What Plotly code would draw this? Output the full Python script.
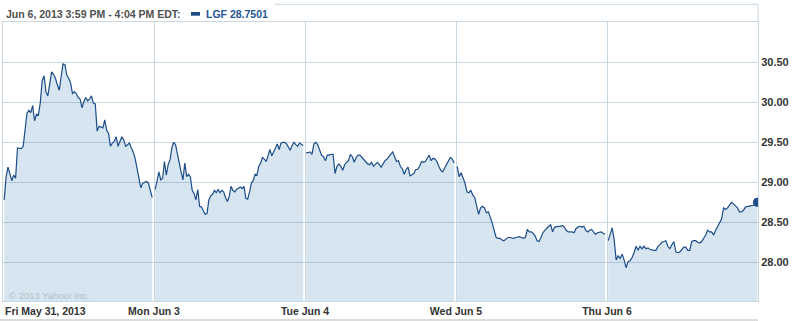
import numpy as np
import plotly.graph_objects as go

# ---- data ----
day_labels = ["Fri May 31, 2013", "Mon Jun 3", "Tue Jun 4", "Wed Jun 5", "Thu Jun 6"]
y_ticks = [28.0, 28.5, 29.0, 29.5, 30.0, 30.5]

fri = [28.78, 29.07, 29.19, 29.11, 29.02, 29.09, 29.05, 29.43, 29.42, 29.42, 29.45, 29.70, 29.86, 29.90,
       29.87, 29.96, 29.77, 29.85, 29.84, 29.99, 30.27, 30.33, 30.13, 30.08, 30.26, 30.38, 30.35, 30.30,
       30.22, 30.15, 30.32, 30.48, 30.47, 30.34, 30.30, 30.24, 30.11, 30.13, 30.11, 30.06, 30.04, 29.93,
       30.01, 30.06, 30.02, 30.04, 30.08, 29.99, 29.98, 29.64, 29.70, 29.69, 29.68, 29.78, 29.65, 29.61,
       29.45, 29.49, 29.51, 29.57, 29.45, 29.51, 29.57, 29.53, 29.45, 29.47, 29.49, 29.43, 29.38, 29.30,
       29.17, 29.03, 28.93, 28.99, 29.00, 29.01, 28.99, 28.90, 28.81]
mon = [28.91, 29.03, 29.13, 29.03, 29.05, 29.26, 29.09, 29.22, 29.28, 29.43, 29.50, 29.47, 29.34, 29.24,
       29.13, 29.03, 29.24, 29.07, 29.10, 29.07, 28.90, 28.86, 28.78, 28.91, 28.70, 28.69, 28.65, 28.60,
       28.61, 28.78, 28.83, 28.85, 28.90, 28.87, 28.91, 28.87, 28.90, 28.88, 28.81, 28.76, 28.82, 28.95,
       28.90, 28.88, 28.91, 28.92, 28.94, 28.92, 28.95, 28.80, 28.79, 28.88, 28.99, 29.02, 29.10, 29.09,
       29.20, 29.24, 29.31, 29.29, 29.26, 29.33, 29.41, 29.33, 29.38, 29.41, 29.48, 29.41, 29.49, 29.50,
       29.50, 29.48, 29.44, 29.40, 29.46, 29.50, 29.47, 29.45, 29.49, 29.48, 29.46]
tue = [29.37, 29.37, 29.38, 29.35, 29.48, 29.50, 29.47, 29.40, 29.34, 29.32, 29.27, 29.34, 29.34, 29.35,
       29.35, 29.11, 29.20, 29.23, 29.20, 29.15, 29.22, 29.25, 29.27, 29.35, 29.32, 29.25, 29.31, 29.34,
       29.34, 29.31, 29.28, 29.25, 29.23, 29.22, 29.25, 29.20, 29.23, 29.25, 29.22, 29.19, 29.23, 29.27,
       29.29, 29.32, 29.35, 29.38, 29.32, 29.26, 29.27, 29.20, 29.17, 29.10, 29.16, 29.19, 29.08, 29.09,
       29.11, 29.16, 29.16, 29.20, 29.26, 29.25, 29.26, 29.30, 29.34, 29.27, 29.30, 29.29, 29.26, 29.20,
       29.15, 29.13, 29.18, 29.21, 29.27, 29.31, 29.29, 29.24]
wed = [29.20, 29.07, 29.12, 29.06, 28.99, 28.88, 28.87, 28.90, 28.84, 28.81, 28.68, 28.60, 28.68, 28.70,
       28.68, 28.62, 28.63, 28.57, 28.49, 28.40, 28.31, 28.30, 28.30, 28.28, 28.27, 28.29, 28.31, 28.31,
       28.30, 28.30, 28.31, 28.32, 28.32, 28.31, 28.30, 28.31, 28.41, 28.38, 28.38, 28.36, 28.33, 28.27,
       28.26, 28.31, 28.37, 28.40, 28.43, 28.45, 28.47, 28.38, 28.44, 28.45, 28.45, 28.45, 28.46, 28.44,
       28.40, 28.38, 28.38, 28.38, 28.37, 28.42, 28.44, 28.45, 28.44, 28.45, 28.40, 28.38, 28.40, 28.41,
       28.38, 28.35, 28.37, 28.38, 28.38, 28.36, 28.35]
thu = [28.27, 28.34, 28.43, 28.28, 28.03, 28.08, 28.05, 28.10, 28.03, 27.93, 28.01, 28.02, 28.06, 28.12,
       28.20, 28.15, 28.20, 28.17, 28.20, 28.17, 28.18, 28.16, 28.15, 28.15, 28.15, 28.20, 28.22, 28.25,
       28.26, 28.27, 28.20, 28.17, 28.22, 28.26, 28.13, 28.12, 28.13, 28.16, 28.19, 28.19, 28.15, 28.15,
       28.26, 28.27, 28.27, 28.25, 28.24, 28.26, 28.30, 28.34, 28.40, 28.38, 28.38, 28.34, 28.40, 28.45,
       28.50, 28.54, 28.68, 28.66, 28.68, 28.72, 28.75, 28.73, 28.70, 28.68, 28.63, 28.63, 28.65, 28.69,
       28.70, 28.70, 28.71, 28.71, 28.73, 28.7501]
days = [fri, mon, tue, wed, thu]
# session end as a fraction of a day's slot (Thursday runs to 4:04 PM, the last quote)
session_end = [0.988, 0.988, 0.988, 0.988, 0.996]

LINE = "#1d4d89"
FILL = "rgba(60,130,185,0.21)"
GRID = "#c9d7e1"
TXT = "#333333"
FONT = "Liberation Sans, Arial, sans-serif"

fig = go.Figure()
for d, vals in enumerate(days):
    x = d + np.linspace(0.008, session_end[d], len(vals))
    fig.add_trace(go.Scatter(x=x, y=vals, mode="lines", fill="tozeroy",
                             fillcolor=FILL, line=dict(color=LINE, width=1.2),
                             hoverinfo="skip", showlegend=False))
# end-of-series marker
fig.add_trace(go.Scatter(x=[4 + session_end[4]], y=[thu[-1]], mode="markers",
                         marker=dict(color=LINE, size=9), showlegend=False, hoverinfo="skip"))

W, H = 792, 321
L, R, T, B = 3, 34, 22, 20
pw, ph = W - L - R, H - T - B


def px(xp):
    return (xp - L) / pw


def py(yp):
    return (H - B - yp) / ph


fig.update_layout(
    width=W, height=H,
    margin=dict(l=L, r=R, t=T, b=B),
    paper_bgcolor="white", plot_bgcolor="white",
    showlegend=False,
    xaxis=dict(range=[0, 5], tickvals=[0, 1, 2, 3, 4], ticktext=[""] + day_labels[1:],
               showgrid=True, gridcolor=GRID, gridwidth=1, zeroline=False,
               showline=True, linecolor=GRID, linewidth=1, mirror=True, ticks="",
               tickfont=dict(family=FONT, size=10.5, color=TXT, weight="bold")),
    yaxis=dict(range=[27.516, 31.004], side="right", tickvals=y_ticks,
               ticktext=[f"{v:.2f}" for v in y_ticks],
               showgrid=True, gridcolor=GRID, gridwidth=1, zeroline=False,
               showline=True, linecolor=GRID, linewidth=1, mirror=True, ticks="",
               tickfont=dict(family=FONT, size=11, color=TXT, weight="bold")),
)

# first day label is left-aligned at the left edge
fig.add_annotation(x=0, y=py(311), xref="x", yref="paper", text=day_labels[0],
                   showarrow=False, xanchor="left", yanchor="middle", xshift=0,
                   font=dict(family=FONT, size=10.5, color=TXT, weight="bold"))
# header
fig.add_annotation(x=px(4), y=py(14), xref="paper", yref="paper",
                   text="Jun 6, 2013 3:59 PM - 4:04 PM EDT:", showarrow=False,
                   xanchor="left", yanchor="middle",
                   font=dict(family=FONT, size=10.5, color="#505050", weight="bold"))
fig.add_annotation(x=px(204), y=py(14), xref="paper", yref="paper",
                   text=f"LGF {thu[-1]:.4f}", showarrow=False,
                   xanchor="left", yanchor="middle",
                   font=dict(family=FONT, size=10.5, color="#1f5596", weight="bold"))
fig.add_shape(type="rect", xref="paper", yref="paper", x0=px(191), x1=px(200),
              y0=py(15.7), y1=py(12), fillcolor=LINE, line=dict(width=0))
# watermark
fig.add_annotation(x=px(7), y=py(295), xref="paper", yref="paper",
                   text="© 2013 Yahoo! Inc.", showarrow=False,
                   xanchor="left", yanchor="middle",
                   font=dict(family=FONT, size=9.5, color="#b4c0c8"))
# frame pieces above the plot
fig.add_shape(type="line", xref="paper", yref="paper", x0=px(275), x1=1, y0=py(4.3), y1=py(4.3),
              line=dict(color=GRID, width=1))
fig.add_shape(type="line", xref="paper", yref="paper", x0=1, x1=1, y0=py(4.3), y1=1,
              line=dict(color=GRID, width=1))
# grey strip at the bottom
fig.add_shape(type="rect", xref="paper", yref="paper", x0=px(0), x1=1, y0=py(321), y1=py(319),
              fillcolor="#dcdcdc", line=dict(width=0))

fig.write_html("out.html")
